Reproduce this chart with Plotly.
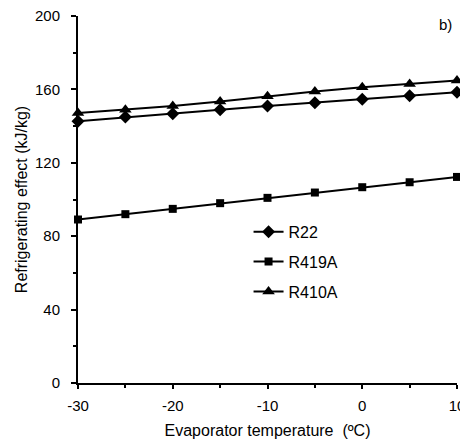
import plotly.graph_objects as go

temps = [-30, -25, -20, -15, -10, -5, 0, 5, 10]
r22 = [142.7, 144.9, 146.7, 148.9, 150.9, 152.7, 154.7, 156.5, 158.5]
r419a = [89.1, 92.0, 94.9, 98.0, 100.9, 103.8, 106.7, 109.4, 112.3]
r410a = [147.1, 148.9, 150.9, 153.4, 156.3, 158.9, 161.2, 163.0, 164.8]

x_tickvals = [-30, -20, -10, 0, 10]
x_ticktext = ["-30", "-20", "-10", "0", "10"]
y_tickvals = [0, 40, 80, 120, 160, 200]
y_ticktext = ["0", "40", "80", "120", "160", "200"]

series = [("R22", r22, "diamond", 10), ("R419A", r419a, "square", 8), ("R410A", r410a, "triangle-up", 11)]

FONT = "Arial, Liberation Sans, sans-serif"
fig = go.Figure()
for i, (name, vals, sym, sz) in enumerate(series):
    fig.add_trace(go.Scatter(
        x=temps, y=vals, name=name, mode="lines+markers",
        line=dict(color="black", width=2),
        marker=dict(symbol=sym, size=sz, color="black"),
        cliponaxis=False, legendgroup=f"g{i}",
    ))

# page body has an 8px default margin, so the figure is offset accordingly
fig.update_layout(
    width=468, height=441,
    margin=dict(l=70, r=19, t=8, b=66),
    paper_bgcolor="white", plot_bgcolor="white",
    font=dict(family=FONT, size=16, color="black"),
    showlegend=True,
    legend=dict(x=0.45, y=0.458, xanchor="left", yanchor="top",
                bgcolor="rgba(0,0,0,0)", tracegroupgap=6, itemwidth=30,
                font=dict(size=16)),
    xaxis=dict(range=[-30, 10], tickvals=x_tickvals, ticktext=x_ticktext,
               showgrid=False, zeroline=False, automargin=False,
               showline=True, linecolor="black", linewidth=2,
               ticks="outside", ticklen=4, tickwidth=2, tickcolor="black",
               ticklabelstandoff=4, ticklabeloverflow="allow",
               minor=dict(dtick=5, tick0=-30, ticks="outside", ticklen=3, tickwidth=2, tickcolor="black"),
               tickfont=dict(size=15),
               title=dict(text="Evaporator temperature  (ºC)", standoff=12, font=dict(size=16))),
    yaxis=dict(range=[0, 200], tickvals=y_tickvals, ticktext=y_ticktext,
               showgrid=False, zeroline=False, automargin=False,
               showline=True, linecolor="black", linewidth=2,
               ticks="outside", ticklen=5, tickwidth=2, tickcolor="black",
               ticklabelstandoff=8, ticklabeloverflow="allow",
               minor=dict(dtick=20, ticks="outside", ticklen=3, tickwidth=2, tickcolor="black"),
               tickfont=dict(size=15),
               title=dict(text="Refrigerating effect (kJ/kg)", standoff=3, font=dict(size=16))),
    annotations=[dict(text="b)", x=0.97, y=0.978, xref="paper", yref="paper",
                      xanchor="center", yanchor="middle", showarrow=False,
                      font=dict(size=15))],
)
fig.write_html("out.html")
